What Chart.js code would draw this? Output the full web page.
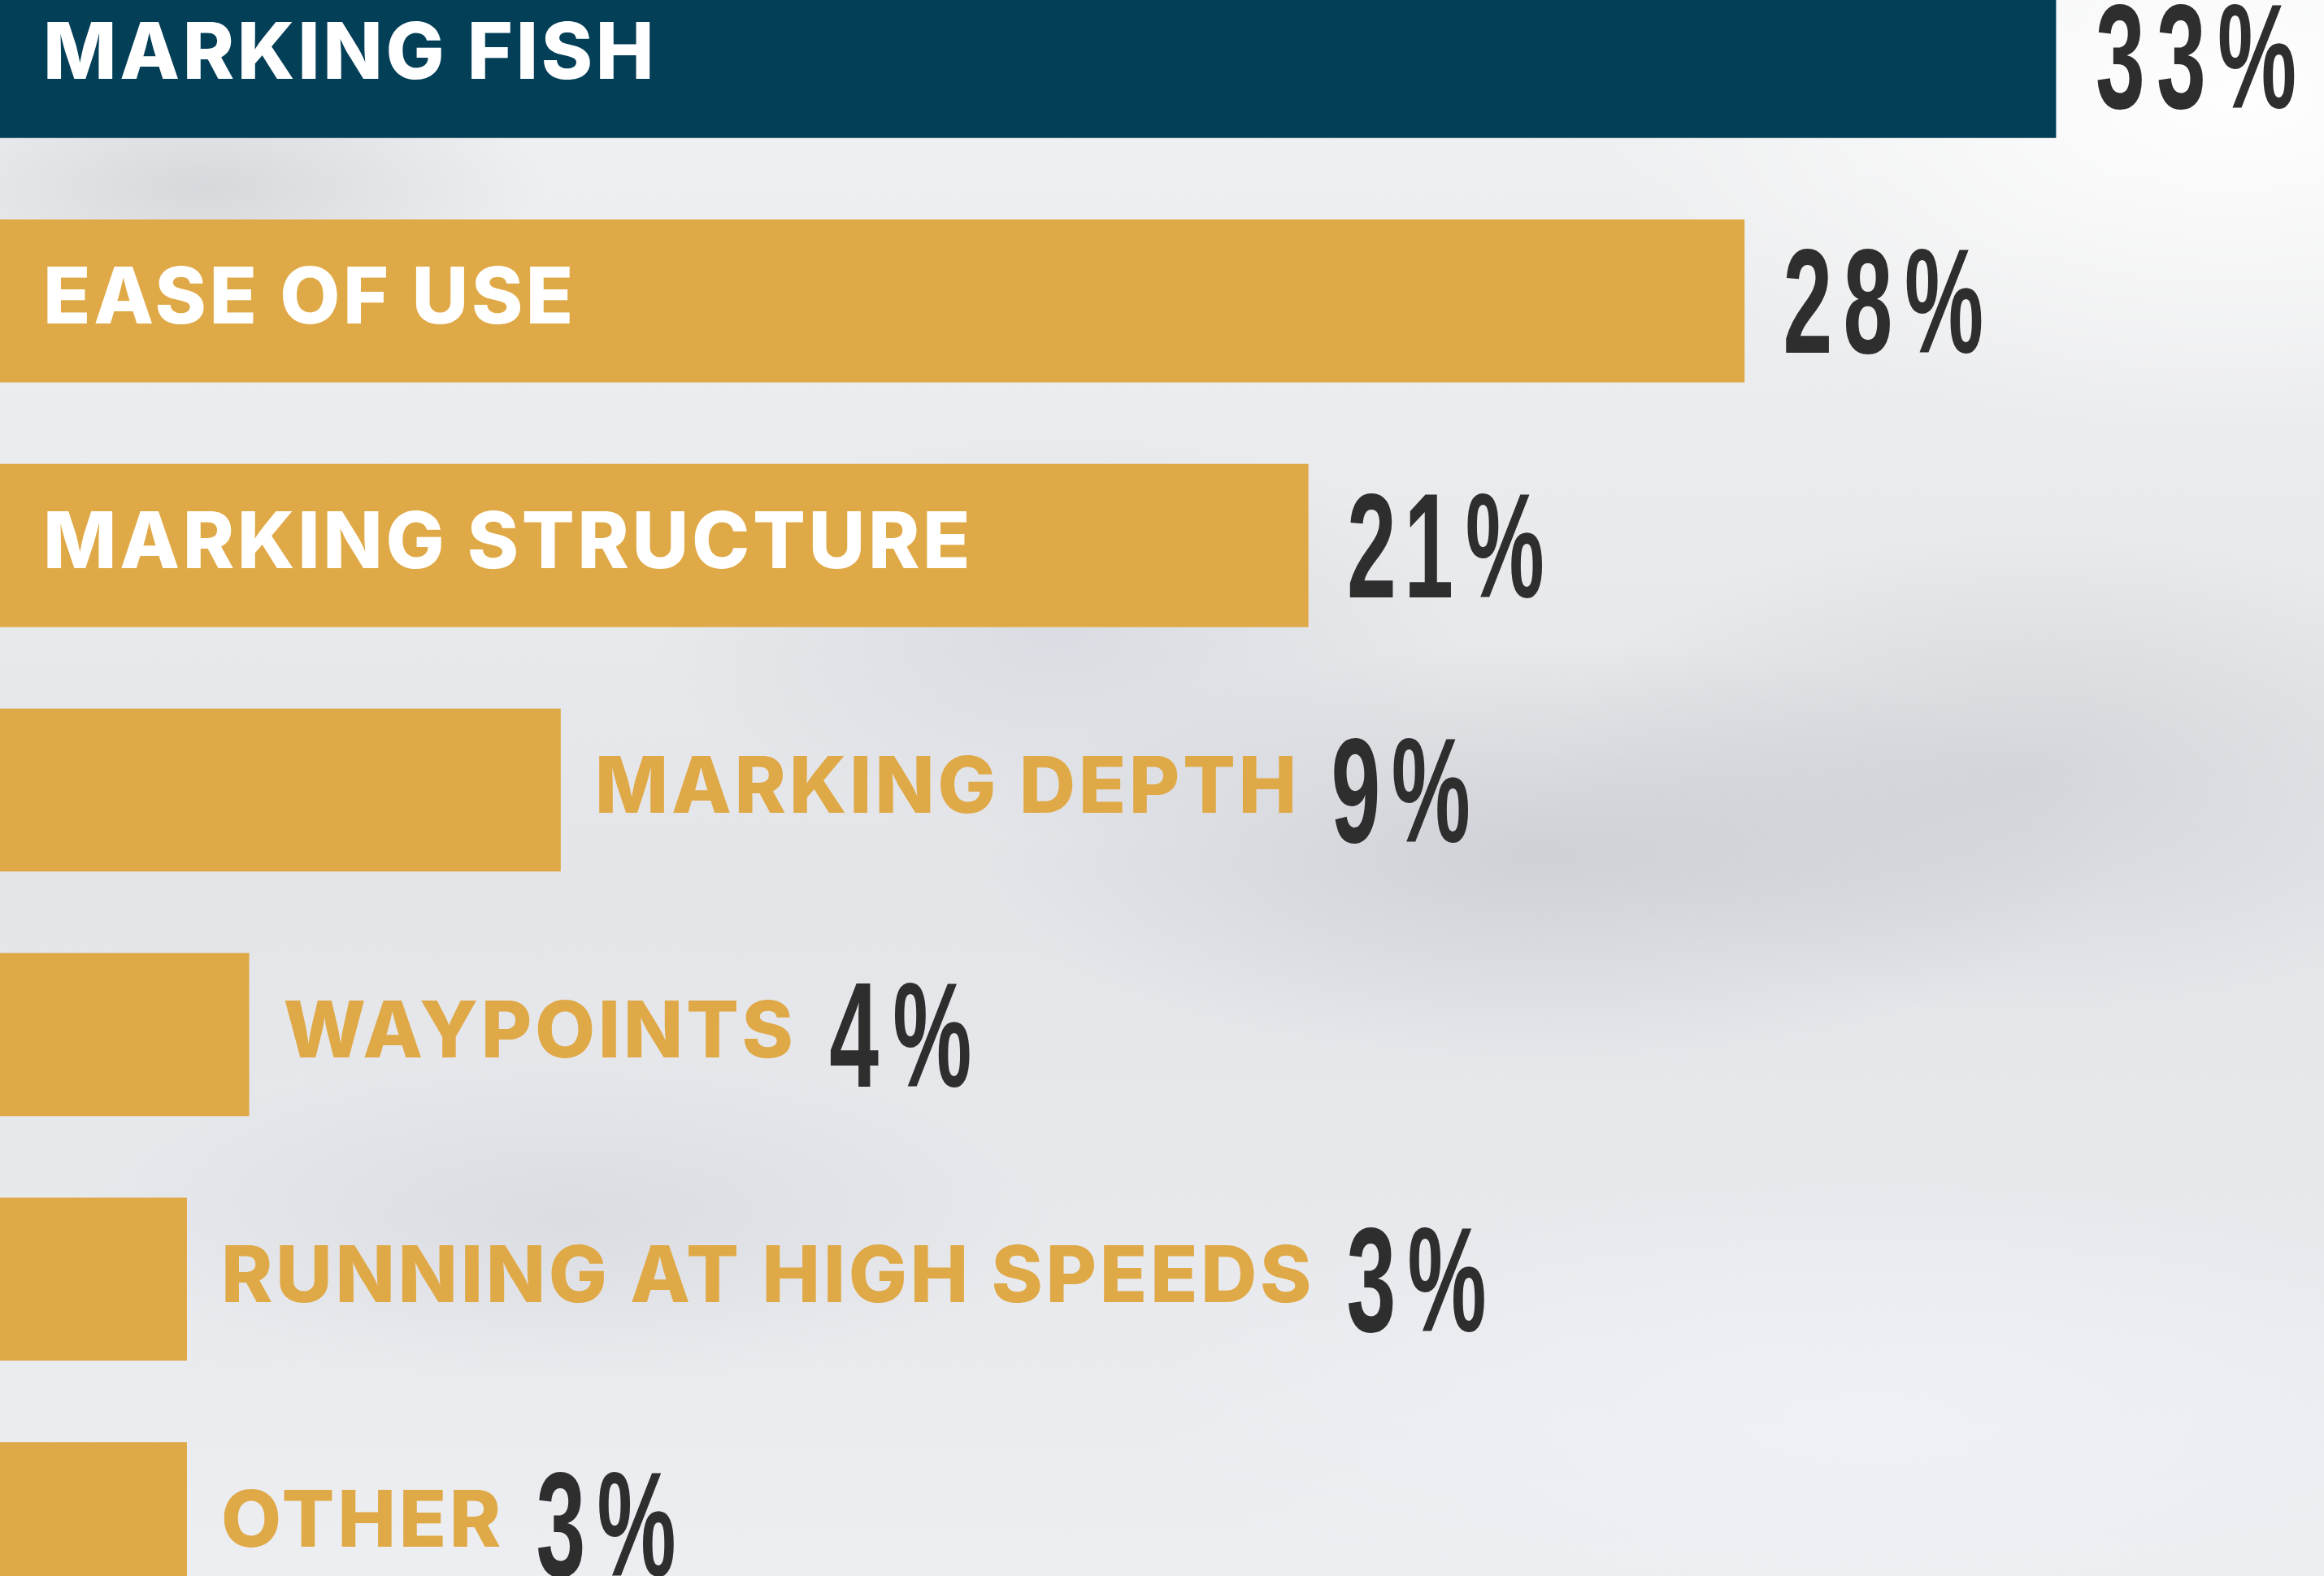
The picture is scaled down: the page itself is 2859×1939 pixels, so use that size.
<!DOCTYPE html>
<html>
<head>
<meta charset="utf-8">
<script src="https://cdn.jsdelivr.net/npm/chart.js@4"></script>
<style>
  html, body { margin: 0; padding: 0; }
  body {
    width: 2859px; height: 1939px; overflow: hidden; position: relative;
    background:
      radial-gradient(ellipse 800px 420px at 2750px 120px, rgba(255,255,255,0.95), rgba(255,255,255,0)),
      radial-gradient(ellipse 700px 260px at 1900px 1050px, rgba(185,188,195,0.5), rgba(185,188,195,0)),
      radial-gradient(ellipse 600px 300px at 2500px 950px, rgba(195,197,203,0.5), rgba(195,197,203,0)),
      radial-gradient(ellipse 500px 250px at 1300px 780px, rgba(200,205,215,0.45), rgba(200,205,215,0)),
      radial-gradient(ellipse 420px 160px at 250px 230px, rgba(195,198,204,0.55), rgba(195,198,204,0)),
      radial-gradient(ellipse 600px 200px at 700px 1500px, rgba(205,208,214,0.5), rgba(205,208,214,0)),
      radial-gradient(ellipse 900px 300px at 2300px 1750px, rgba(238,241,246,0.9), rgba(238,241,246,0)),
      linear-gradient(180deg, #f0f1f2 0%, #e9eaec 35%, #e3e5e9 55%, #e6e8ec 75%, #eceef1 100%);
  }
  #wrap { position: absolute; left: 0; top: -81px; width: 2859px; height: 2106px; }
</style>
</head>
<body>
<div id="wrap"><canvas id="c" width="2859" height="2106"></canvas></div>
<script>
const categories = ['MARKING FISH', 'EASE OF USE', 'MARKING STRUCTURE', 'MARKING DEPTH', 'WAYPOINTS', 'RUNNING AT HIGH SPEEDS', 'OTHER'];
const values = [33, 28, 21, 9, 4, 3, 3];
const valueLabels = ['33%', '28%', '21%', '9%', '4%', '3%', '3%'];

const NAVY = '#043f58';
const GOLD = '#e0a947';
const DARK = '#2e2e2f';

const PCT_FAMILY = '"Liberation Sans", Arial, sans-serif';
const DIGIT_H = 128, DIGIT_W = 55, CHAR_GAP = 20;

function drawCondensed(ctx, text, x, baseline) {
  ctx.save();
  ctx.font = '700 100px ' + PCT_FAMILY;
  const m0 = ctx.measureText('3');
  const size = 100 * DIGIT_H / m0.actualBoundingBoxAscent;
  ctx.font = '700 ' + size + 'px ' + PCT_FAMILY;
  const m3 = ctx.measureText('3');
  const sx = DIGIT_W / (m3.actualBoundingBoxRight + m3.actualBoundingBoxLeft);
  ctx.fillStyle = DARK;
  ctx.textBaseline = 'alphabetic';
  ctx.textAlign = 'left';
  let cx = x;
  for (const ch of text) {
    const m = ctx.measureText(ch);
    const inkL = -m.actualBoundingBoxLeft;
    const inkW = m.actualBoundingBoxRight + m.actualBoundingBoxLeft;
    ctx.save();
    ctx.translate(cx, baseline);
    ctx.scale(sx, 1);
    ctx.fillText(ch, -inkL, 0);
    ctx.restore();
    cx += inkW * sx + CHAR_GAP;
  }
  ctx.restore();
}

const labelPlugin = {
  id: 'barLabels',
  afterDatasetsDraw(chart) {
    const ctx = chart.ctx;
    const meta = chart.getDatasetMeta(0);
    meta.data.forEach((bar, i) => {
      const p = bar.getProps(['x', 'y', 'base'], true);
      ctx.save();
      ctx.textBaseline = 'alphabetic';
      ctx.textAlign = 'left';
      ctx.font = '800 96px Inter';
      ctx.letterSpacing = '3.6px';
      const tw = ctx.measureText(categories[i]).width;
      const inside = tw + 2 * 53 < (p.x - p.base);
      let pctX;
      if (inside) {
        ctx.fillStyle = '#ffffff';
        ctx.fillText(categories[i], p.base + 53, p.y + 28);
        pctX = p.x + 51;
      } else {
        ctx.fillStyle = GOLD;
        ctx.fillText(categories[i], p.x + 42, p.y + 28);
        pctX = p.x + 42 + tw + 42;
      }
      ctx.restore();
      drawCondensed(ctx, valueLabels[i], pctX, p.y + 64);
    });
  }
};

function make() {
  new Chart(document.getElementById('c'), {
    type: 'bar',
    data: {
      labels: categories,
      datasets: [{
        data: values,
        backgroundColor: (c) => c.dataIndex === 0 ? NAVY : GOLD,
        borderWidth: 0,
        categoryPercentage: 1,
        barPercentage: 0.667
      }]
    },
    options: {
      indexAxis: 'y',
      responsive: false,
      animation: false,
      devicePixelRatio: 1,
      layout: { padding: 0 },
      plugins: { legend: { display: false }, tooltip: { enabled: false }, title: { display: false } },
      scales: {
        x: { display: false, min: 0, max: 37.3, grid: { display: false } },
        y: { display: false, grid: { display: false } }
      }
    },
    plugins: [labelPlugin]
  });
}
Promise.all([
  document.fonts.load('800 96px Inter'),
  document.fonts.load('700 100px "Liberation Sans"')
]).then(make, make);
</script>
</body>
</html>
